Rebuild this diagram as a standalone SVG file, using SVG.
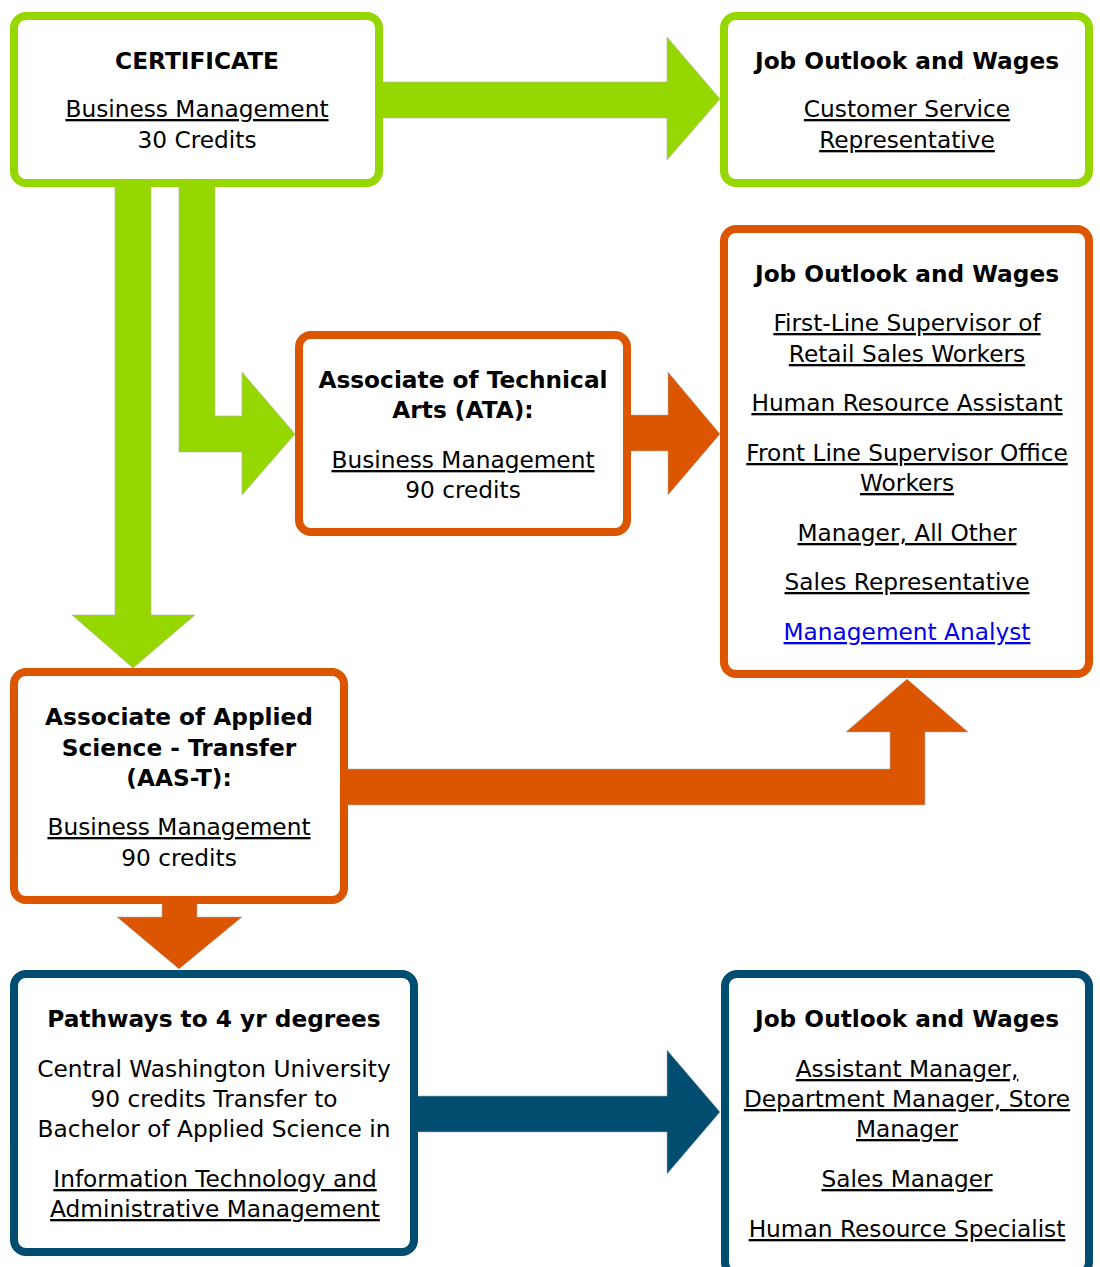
<svg xmlns="http://www.w3.org/2000/svg" width="1100" height="1267" viewBox="0 0 1100 1267">
<style>
.t{font-family:"DejaVu Sans","Liberation Sans",sans-serif;font-size:23.25px;fill:#000;text-anchor:middle}
.b{font-weight:bold}
.u{text-decoration:underline}
.lk{fill:#0000ee}
.box{fill:#fff;stroke-width:8}
.g{fill:#97d700}
.o{fill:#dc5500}
.bl{fill:#004d70}
</style>
<rect width="1100" height="1267" fill="#fff"/>
<g id="connectors" stroke="#b0b0b0" stroke-width="0.6">
<polygon class="g" points="383,82 667,82 667,37 720,99 667,160 667,118 383,118"/>
<polygon class="g" points="115,185 151,185 151,615 195,615 133,668 72,615 115,615"/>
<polygon class="g" points="179,185 215,185 215,416 242,416 242,372 295,434 242,495 242,452 179,452"/>
<polygon class="o" points="629,415 668,415 668,372 720,434 668,495 668,451 629,451"/>
<polygon class="o" points="346,769 890,769 890,732 846,732 907,679 968,732 925,732 925,805 346,805"/>
<polygon class="o" points="162,902 197,902 197,917 242,917 179,969 117,917 162,917"/>
<polygon class="bl" points="416,1096 667,1096 667,1050 720,1112 667,1174 667,1132 416,1132"/>
</g>
<g id="certificate">
<rect class="box" x="14" y="16" width="365" height="167" rx="12" stroke="#97d700"/>
<text class="t b" x="197" y="69">CERTIFICATE</text>
<text class="t u" x="197" y="117">Business Management</text>
<text class="t" x="197" y="148">30 Credits</text>
</g>
<g id="jobs-cert">
<rect class="box" x="724" y="16" width="365" height="167" rx="12" stroke="#97d700"/>
<text class="t b" x="907" y="69">Job Outlook and Wages</text>
<text class="t u" x="907" y="117">Customer Service</text>
<text class="t u" x="907" y="148">Representative</text>
</g>
<g id="ata">
<rect class="box" x="299" y="335" width="328" height="197" rx="12" stroke="#dc5500"/>
<text class="t b" x="463" y="388">Associate of Technical</text>
<text class="t b" x="463" y="418">Arts (ATA):</text>
<text class="t u" x="463" y="468">Business Management</text>
<text class="t" x="463" y="498">90 credits</text>
</g>
<g id="jobs-assoc">
<rect class="box" x="724" y="229" width="365" height="445" rx="12" stroke="#dc5500"/>
<text class="t b" x="907" y="282">Job Outlook and Wages</text>
<text class="t u" x="907" y="331">First-Line Supervisor of</text>
<text class="t u" x="907" y="362">Retail Sales Workers</text>
<text class="t u" x="907" y="411">Human Resource Assistant</text>
<text class="t u" x="907" y="461">Front Line Supervisor Office</text>
<text class="t u" x="907" y="491">Workers</text>
<text class="t u" x="907" y="541">Manager, All Other</text>
<text class="t u" x="907" y="590">Sales Representative</text>
<text class="t u lk" x="907" y="640">Management Analyst</text>
</g>
<g id="aast">
<rect class="box" x="14" y="672" width="330" height="228" rx="12" stroke="#dc5500"/>
<text class="t b" x="179" y="725">Associate of Applied</text>
<text class="t b" x="179" y="756">Science - Transfer</text>
<text class="t b" x="179" y="786">(AAS-T):</text>
<text class="t u" x="179" y="835">Business Management</text>
<text class="t" x="179" y="866">90 credits</text>
</g>
<g id="pathways">
<rect class="box" x="14" y="974" width="400" height="278" rx="12" stroke="#004d70"/>
<text class="t b" x="214" y="1027">Pathways to 4 yr degrees</text>
<text class="t" x="214" y="1077">Central Washington University</text>
<text class="t" x="214" y="1107">90 credits Transfer to</text>
<text class="t" x="214" y="1137">Bachelor of Applied Science in</text>
<text class="t u" x="215" y="1187">Information Technology and</text>
<text class="t u" x="215" y="1217">Administrative Management</text>
</g>
<g id="jobs-bachelor">
<rect class="box" x="725" y="974" width="364" height="300" rx="12" stroke="#004d70"/>
<text class="t b" x="907" y="1027">Job Outlook and Wages</text>
<text class="t u" x="907" y="1077">Assistant Manager,</text>
<text class="t u" x="907" y="1107">Department Manager, Store</text>
<text class="t u" x="907" y="1137">Manager</text>
<text class="t u" x="907" y="1187">Sales Manager</text>
<text class="t u" x="907" y="1237">Human Resource Specialist</text>
</g>
</svg>
